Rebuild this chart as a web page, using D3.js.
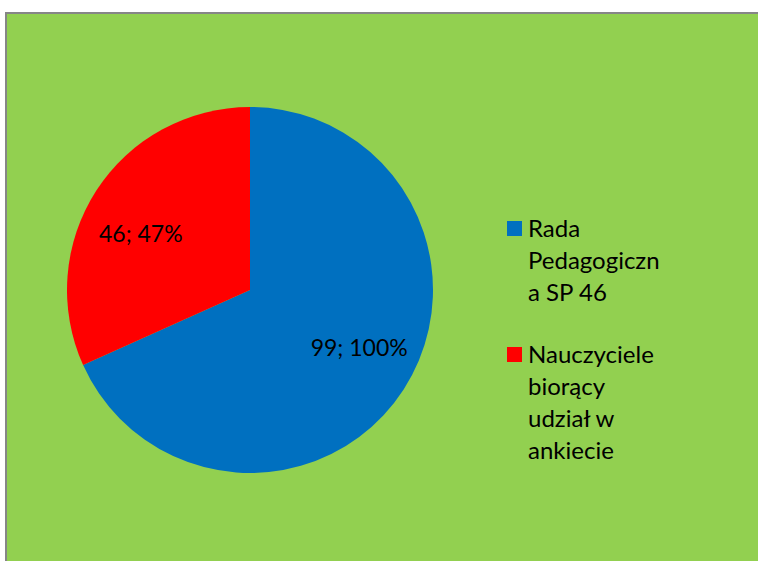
<!DOCTYPE html>
<html>
<head>
<meta charset="utf-8">
<script src="https://cdn.jsdelivr.net/npm/d3@7"></script>
<style>
  html, body { margin: 0; padding: 0; background: #ffffff; overflow: hidden; }
  svg { display: block; overflow: hidden; }
</style>
</head>
<body>
<svg id="chart" width="758" height="561"></svg>
<script>
const categories = ["Rada Pedagogiczna SP 46", "Nauczyciele biorący udział w ankiecie"];
const legendLines = [["Rada", "Pedagogiczn", "a SP 46"], ["Nauczyciele", "biorący", "udział w", "ankiecie"]];
const values = [99, 46];
const percentLabels = ["100%", "47%"];
const colors = ["#0070C0", "#FF0000"];

const svg = d3.select("#chart");
const font = "Lato, 'Open Sans', sans-serif";

// chart area (extends past the right and bottom edges of the window)
svg.append("rect")
  .attr("x", 5).attr("y", 13)
  .attr("width", 760).attr("height", 560)
  .attr("fill", "#92D050");
svg.append("path")
  .attr("d", "M6,561 L6,13 L758,13")
  .attr("fill", "none")
  .attr("stroke", "#868686").attr("stroke-width", 2);

const cx = 250, cy = 290, R = 183;
const g = svg.append("g").attr("transform", `translate(${cx},${cy})`);

const pie = d3.pie().sort(null).value(d => d.value).startAngle(0).endAngle(2 * Math.PI);
const data = values.map((v, i) => ({ value: v, name: categories[i], pct: percentLabels[i], color: colors[i] }));
const arcs = pie(data);
const arc = d3.arc().innerRadius(0).outerRadius(R);

g.selectAll("path.slice").data(arcs).enter().append("path")
  .attr("class", "slice")
  .attr("d", arc)
  .attr("fill", d => d.data.color);

const labelR = 123, labelShift = -0.096;
g.selectAll("text.lbl").data(arcs).enter().append("text")
  .attr("class", "lbl")
  .attr("transform", d => {
    const a = (d.startAngle + d.endAngle) / 2 + labelShift;
    return `translate(${labelR * Math.sin(a)},${-labelR * Math.cos(a)})`;
  })
  .attr("text-anchor", "middle")
  .attr("dominant-baseline", "central")
  .attr("font-family", font)
  .attr("font-size", 23)
  .attr("fill", "#000")
  .text(d => `${d.data.value}; ${d.data.pct}`);

// legend
const legend = svg.append("g").attr("transform", "translate(507,0)");
const lineH = 32;
const starts = [237, 363];
data.forEach((d, i) => {
  const y0 = starts[i];
  legend.append("rect")
    .attr("x", 0).attr("y", y0 - 16)
    .attr("width", 15).attr("height", 15)
    .attr("fill", d.color);
  const t = legend.append("text")
    .attr("font-family", font)
    .attr("font-size", 24)
    .attr("fill", "#000");
  legendLines[i].forEach((ln, j) => {
    t.append("tspan").attr("x", 21).attr("y", y0 + j * lineH).text(ln);
  });
});
</script>
</body>
</html>
